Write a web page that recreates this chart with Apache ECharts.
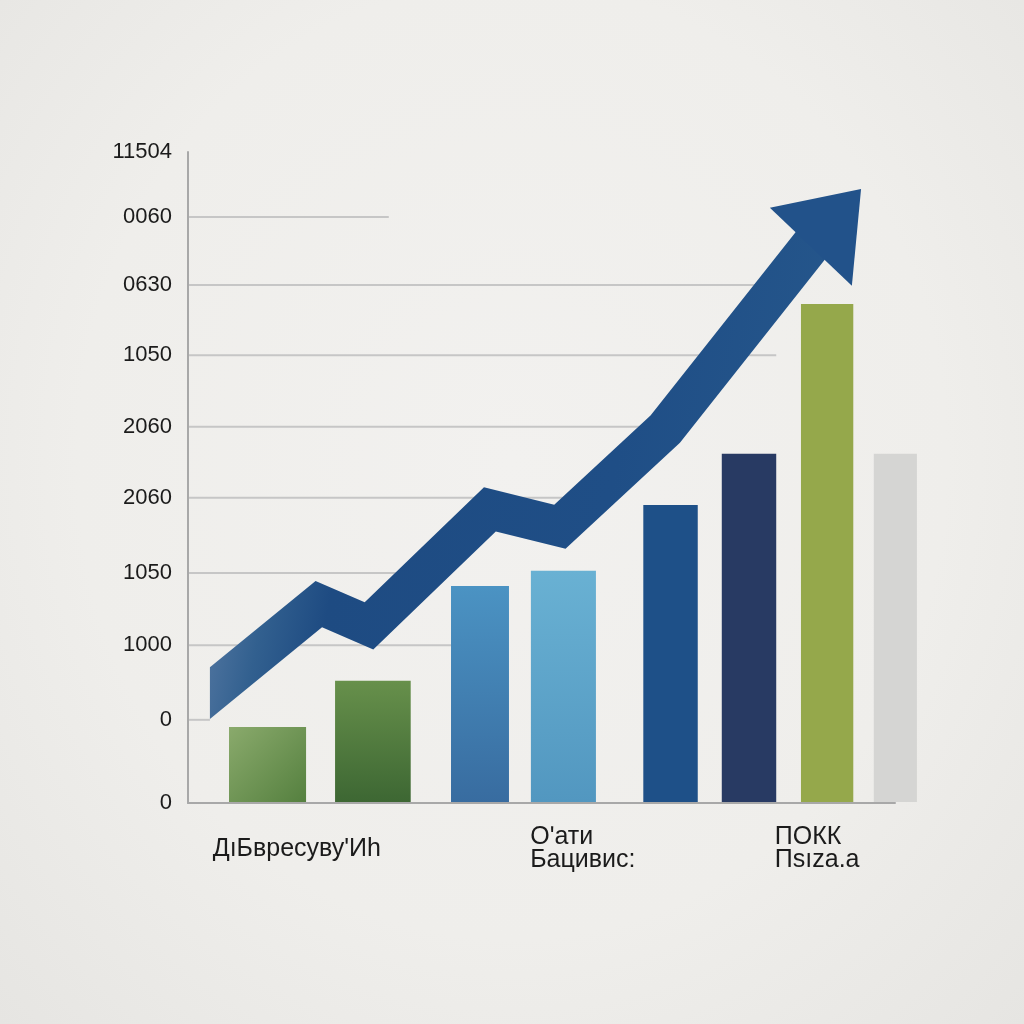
<!DOCTYPE html>
<html>
<head>
<meta charset="utf-8">
<script src="https://cdn.jsdelivr.net/npm/echarts@6/dist/echarts.min.js"></script>
<style>
  html, body { margin: 0; padding: 0; }
  #chart {
    width: 1024px; height: 1024px;
    background: radial-gradient(ellipse at 50% 45%, #f2f1ef 0%, #efeeeb 60%, #e6e5e2 100%);
  }
</style>
</head>
<body>
<div id="chart"></div>
<script>
// Y ticks (uneven spacing as in the picture) and their labels, bottom to top
const yTickValues = [0, 1.15, 2.18, 3.18, 4.22, 5.20, 6.19, 7.16, 8.10, 9];
const yTickLabels = ['0', '0', '1000', '1050', '2060', '2060', '1050', '0630', '0060', '11504'];

// X axis labels (left edge position in x units)
const xLabels = ["ДıБвресуву'Иh", 'Оʹати\nБацивис:', 'ПОКК\nПsıza.a'];
const xLabelPos = [3.5, 48.4, 83.0];

// Bars: left edge, right edge, height
const barLeft = [5.8, 20.8, 37.2, 48.5, 64.4, 75.5, 86.7, 97.0];
const barRight = [16.7, 31.5, 45.4, 57.7, 72.1, 83.2, 94.1, 103.1];
const barValue = [1.05, 1.69, 3.0, 3.21, 4.12, 4.83, 6.90, 4.83];

// Partial gridlines: tick index and where each stops
const gridTick = [1, 2, 3, 4, 5, 6, 7, 8];
const gridEnd = [3.1, 37.5, 32.0, 53.0, 65.0, 83.2, 80.2, 28.4];

// Trend arrow centerline
const arrowX = [3.1, 18.5, 25.6, 42.7, 52.6, 67.5, 88.0];
const arrowY = [1.52, 2.75, 2.45, 4.06, 3.82, 5.17, 7.70];
// Arrow head: left corner, tip, right corner
const headX = [82.3, 95.2, 93.9];
const headY = [8.23, 8.49, 7.15];

const colors = {
  axis: '#a8a8a8',
  grid: '#c6c6c6',
  text: '#1b1b1b',
  arrowHead: '#22528a'
};

const lg = (x2, y2, c0, c1) => new echarts.graphic.LinearGradient(0, 0, x2, y2, [
  { offset: 0, color: c0 }, { offset: 1, color: c1 }
]);

const barColors = [
  lg(1, 1, '#8aaa6c', '#55803f'),
  lg(0, 1, '#67904b', '#3d6733'),
  lg(0, 1, '#4b93c3', '#386ca0'),
  lg(0, 1, '#69b1d3', '#5297c0'),
  '#1e5088',
  '#283a63',
  '#95a84b',
  '#d5d5d3'
];

/**
 * Build a thick band polygon around a pixel polyline (miter joins, vertical start cut).
 */
function bandPolygon(pts, half, endExtend) {
  const n = pts.length;
  const dirs = [], norms = [];
  for (let i = 0; i < n - 1; i++) {
    const dx = pts[i + 1][0] - pts[i][0], dy = pts[i + 1][1] - pts[i][1];
    const len = Math.hypot(dx, dy);
    dirs.push([dx / len, dy / len]);
    norms.push([-dy / len, dx / len]);
  }
  const upper = [], lower = [];
  for (let i = 0; i < n; i++) {
    const p = pts[i];
    if (i === 0) {
      const d = dirs[0], nn = norms[0];
      const t = nn[0] * half / d[0];
      upper.push([p[0] - nn[0] * half + d[0] * t, p[1] - nn[1] * half + d[1] * t]);
      lower.push([p[0] + nn[0] * half - d[0] * t, p[1] + nn[1] * half - d[1] * t]);
    } else if (i === n - 1) {
      const d = dirs[n - 2], nn = norms[n - 2];
      const q = [p[0] + d[0] * endExtend, p[1] + d[1] * endExtend];
      upper.push([q[0] - nn[0] * half, q[1] - nn[1] * half]);
      lower.push([q[0] + nn[0] * half, q[1] + nn[1] * half]);
    } else {
      const a = norms[i - 1], b = norms[i];
      let m = [a[0] + b[0], a[1] + b[1]];
      const ml = Math.hypot(m[0], m[1]);
      m = [m[0] / ml, m[1] / ml];
      const s = half / (m[0] * b[0] + m[1] * b[1]);
      upper.push([p[0] - m[0] * s, p[1] - m[1] * s]);
      lower.push([p[0] + m[0] * s, p[1] + m[1] * s]);
    }
  }
  return upper.concat(lower.reverse());
}

const chart = echarts.init(document.getElementById('chart'), null, { renderer: 'canvas' });

chart.setOption({
  backgroundColor: 'transparent',
  animation: false,
  grid: { left: 188, right: 129, top: 152, bottom: 221 },
  xAxis: {
    type: 'value',
    min: 0,
    max: 100,
    axisLine: { show: true, lineStyle: { color: colors.axis, width: 2 } },
    axisTick: { show: false },
    splitLine: { show: false },
    axisLabel: {
      customValues: xLabelPos,
      formatter: v => xLabels[xLabelPos.indexOf(v)] || '',
      align: 'left',
      verticalAlign: 'middle',
      margin: 46,
      lineHeight: 23,
      fontSize: 25,
      color: colors.text,
      fontFamily: '"Liberation Sans Narrow", "Liberation Sans", sans-serif'
    }
  },
  yAxis: {
    type: 'value',
    min: 0,
    max: 9,
    axisLine: { show: true, lineStyle: { color: colors.axis, width: 2 } },
    axisTick: { show: false },
    splitLine: { show: false },
    axisLabel: {
      customValues: yTickValues,
      formatter: v => yTickLabels[yTickValues.indexOf(v)] || '',
      margin: 16,
      fontSize: 22,
      color: colors.text,
      fontFamily: '"Liberation Sans", Arial, sans-serif'
    }
  },
  series: [
    {
      // partial gridlines
      type: 'custom',
      z: 1,
      silent: true,
      data: gridTick.map((t, i) => [gridEnd[i], yTickValues[t]]),
      encode: { x: 0, y: 1 },
      renderItem: (params, api) => {
        const a = api.coord([0, api.value(1)]);
        const b = api.coord([api.value(0), api.value(1)]);
        return {
          type: 'line',
          shape: { x1: a[0] + 1, y1: a[1], x2: b[0], y2: b[1] },
          style: { stroke: colors.grid, lineWidth: 2 }
        };
      }
    },
    {
      // bars
      type: 'custom',
      z: 2,
      clip: false,
      data: barValue.map((v, i) => [barLeft[i], barRight[i], v]),
      encode: { x: [0, 1], y: 2 },
      renderItem: (params, api) => {
        const tl = api.coord([api.value(0), api.value(2)]);
        const br = api.coord([api.value(1), 0]);
        return {
          type: 'rect',
          shape: { x: tl[0], y: tl[1], width: br[0] - tl[0], height: br[1] - tl[1] - 1 },
          style: { fill: barColors[params.dataIndex] }
        };
      }
    },
    {
      // trend arrow
      type: 'custom',
      z: 3,
      clip: false,
      data: arrowX.map((x, i) => [x, arrowY[i]]),
      encode: { x: 0, y: 1 },
      renderItem: (params, api) => {
        if (params.dataIndex !== 0) return null;
        const pts = arrowX.map((x, i) => api.coord([x, arrowY[i]]));
        const band = bandPolygon(pts, 20, 10);
        const head = headX.map((x, i) => api.coord([x, headY[i]]));
        return {
          type: 'group',
          children: [
            {
              type: 'polygon',
              shape: { points: band },
              style: {
                fill: new echarts.graphic.LinearGradient(0, 0, 1, 0.25, [
                  { offset: 0, color: '#6f8db2' },
                  { offset: 0.1, color: '#5679a3' },
                  { offset: 0.2, color: '#32608f' },
                  { offset: 0.3, color: '#1e4b82' },
                  { offset: 0.7, color: '#1f4e86' },
                  { offset: 1, color: '#25568b' }
                ])
              }
            },
            {
              type: 'polygon',
              shape: { points: head },
              style: { fill: colors.arrowHead }
            }
          ]
        };
      }
    }
  ]
});
</script>
</body>
</html>
